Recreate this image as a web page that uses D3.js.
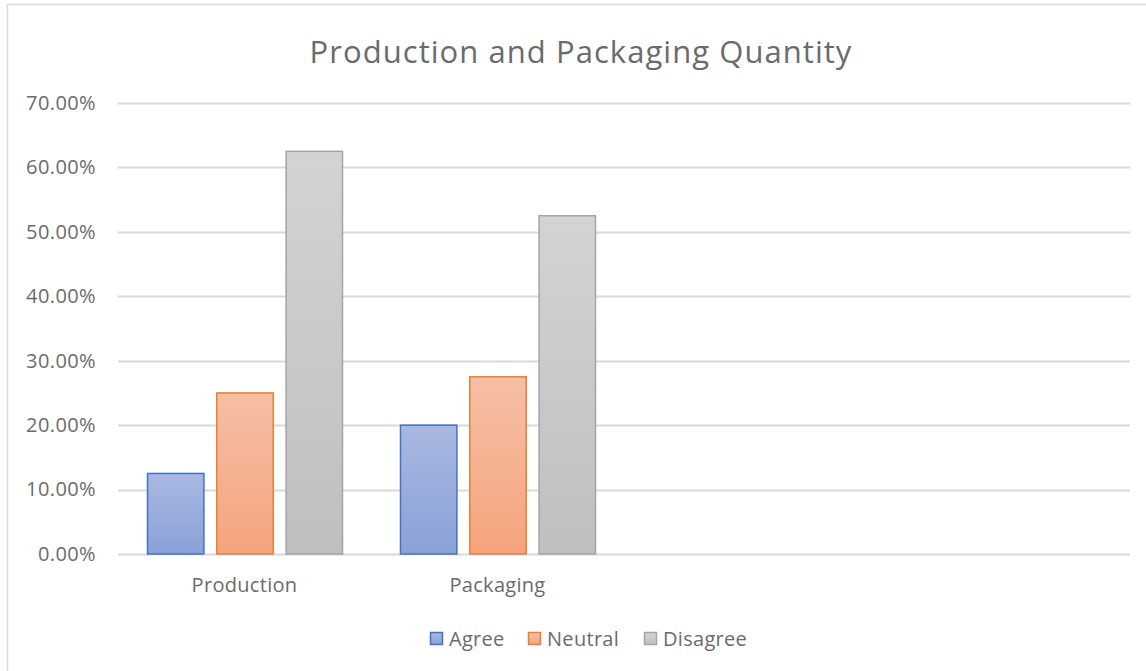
<!DOCTYPE html>
<html><head><meta charset="utf-8">
<script src="https://cdn.jsdelivr.net/npm/d3@7"></script>
<style>body{margin:0;background:#fff;} svg{display:block;font-family:"Open Sans",sans-serif;}</style>
</head><body>
<svg id="c" width="1146" height="671"></svg>
<script>
const categories = ["Production", "Packaging", "", ""];
const seriesNames = ["Agree", "Neutral", "Disagree"];
const agree = [0.125, 0.20, null, null];
const neutral = [0.25, 0.275, null, null];
const disagree = [0.625, 0.525, null, null];
const yTicks = [0, 0.1, 0.2, 0.3, 0.4, 0.5, 0.6, 0.7];
const title = "Production and Packaging Quantity";

(function () {
const seriesVals = [agree, neutral, disagree];
const fills = [["#a9b8e1", "#8aa1d8"], ["#f5bfa6", "#f5a47d"], ["#d3d3d3", "#bfbfbf"]];
const strokes = ["#4472c4", "#ed7d31", "#a5a5a5"];
const txt = "#6b6b6b";
const fs = "20px";

const svg = d3.select("#c");
const defs = svg.append("defs");
fills.forEach((f, i) => {
  const g = defs.append("linearGradient").attr("id", "g" + i).attr("x1", 0).attr("y1", 0).attr("x2", 0).attr("y2", 1);
  g.append("stop").attr("offset", "0%").attr("stop-color", f[0]);
  g.append("stop").attr("offset", "100%").attr("stop-color", f[1]);
});

// chart frame
svg.append("rect").attr("x", 7.5).attr("y", 4.5).attr("width", 1150).attr("height", 680)
  .attr("fill", "none").attr("stroke", "#d9d9d9").attr("stroke-width", 1.5);

const mLeft = 118, mRight = 1130, mTop = 103, mBottom = 554;
const x0 = d3.scaleBand().domain(d3.range(categories.length)).range([mLeft, mRight]).padding(0);
const bw = x0.bandwidth();
const x1 = d3.scaleBand().domain(d3.range(seriesNames.length)).range([bw * 0.1146, bw * (1 - 0.1146)]).paddingInner(0.186).paddingOuter(0);
const y = d3.scaleLinear().domain([0, 0.7]).range([mBottom, mTop]);

// gridlines
svg.append("g").selectAll("line").data(yTicks).join("line")
  .attr("x1", mLeft).attr("x2", mRight)
  .attr("y1", d => Math.round(y(d)) + 0.5).attr("y2", d => Math.round(y(d)) + 0.5)
  .attr("stroke", "#d9d9d9").attr("stroke-width", 2);

// y axis labels
const yAxis = d3.axisLeft(y).tickValues(yTicks).tickFormat(d => (d * 100).toFixed(2) + "%").tickSize(0).tickPadding(22);
const ya = svg.append("g").attr("transform", `translate(${mLeft},0)`).call(yAxis);
ya.select(".domain").remove();
ya.selectAll("text").attr("fill", txt).style("font-size", fs).style("letter-spacing", "0.4px").style("font-family", "'Open Sans',sans-serif");

// x axis
const xAxis = d3.axisBottom(x0).tickFormat(i => categories[i]).tickSize(0).tickPadding(24);
const xa = svg.append("g").attr("transform", `translate(0,${mBottom})`).call(xAxis);
xa.select(".domain").remove();
xa.selectAll("text").attr("fill", txt).style("font-size", fs).style("letter-spacing", "0.3px").style("font-family", "'Open Sans',sans-serif");

// bars
seriesVals.forEach((vals, s) => {
  svg.append("g").selectAll("rect").data(vals.map((v, i) => ({v, i})).filter(d => d.v != null)).join("rect")
    .attr("x", d => x0(d.i) + x1(s) + 0.5)
    .attr("y", d => y(d.v))
    .attr("width", x1.bandwidth())
    .attr("height", d => y(0) - y(d.v))
    .attr("fill", `url(#g${s})`)
    .attr("stroke", strokes[s]).attr("stroke-width", 1.5);
});

// title
svg.append("text").attr("x", 581).attr("y", 63).attr("text-anchor", "middle")
  .attr("fill", txt).style("font-size", "31px").style("letter-spacing", "1.05px").style("font-family", "'Open Sans',sans-serif")
  .text(title);

// legend
const legendX = [430, 528, 644];
const lg = svg.append("g");
seriesNames.forEach((n, s) => {
  lg.append("rect").attr("x", legendX[s] + 0.5).attr("y", 632.5).attr("width", 12).attr("height", 12)
    .attr("fill", `url(#g${s})`).attr("stroke", strokes[s]).attr("stroke-width", 1.5);
  lg.append("text").attr("x", legendX[s] + 19).attr("y", 646).attr("fill", txt)
    .style("font-size", fs).style("letter-spacing", "0.3px").style("font-family", "'Open Sans',sans-serif").text(n);
});
})();
</script>
</body></html>
